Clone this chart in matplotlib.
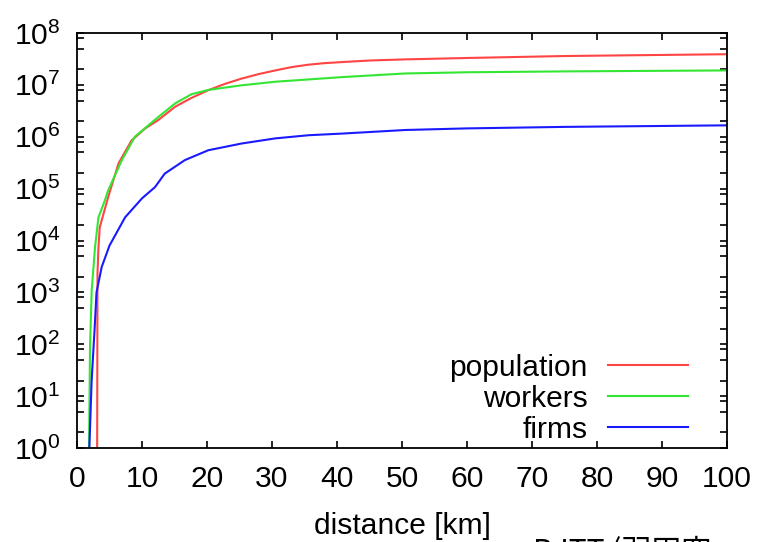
import numpy as np
import matplotlib
matplotlib.use('Agg')
import matplotlib.pyplot as plt
from matplotlib.ticker import LogLocator, NullFormatter, FixedLocator

# values (distance in km, cumulative counts)
pop_km = [3.1, 3.15, 3.3, 3.5, 4.8, 6.4, 8.4, 10.5, 12.5, 15.1, 17.6, 20.2,
          22.8, 25.3, 28, 30.5, 33, 35.6, 38, 40.7, 45, 50.5, 60, 75, 100]
pop_val = [1, 2.3e3, 7.4e3, 1.8e4, 6.9e4, 3.1e5, 8.5e5, 1.45e6, 2.1e6, 3.8e6,
           5.6e6, 7.9e6, 1.05e7, 1.32e7, 1.62e7, 1.9e7, 2.2e7, 2.45e7, 2.62e7,
           2.75e7, 2.95e7, 3.1e7, 3.3e7, 3.6e7, 3.9e7]

work_km = [1.85, 2.0, 2.26, 2.77, 3.3, 4.3, 4.8, 6.9, 8.9, 12.5, 15.1, 17.6,
           20.2, 25.3, 30.5, 40.7, 50.5, 60, 75, 100]
work_val = [1, 90, 1.1e3, 7.4e3, 2.8e4, 6.0e4, 9.3e4, 3.55e5, 1.0e6, 2.4e6,
            4.4e6, 6.6e6, 8.0e6, 9.8e6, 1.15e7, 1.41e7, 1.66e7, 1.75e7,
            1.82e7, 1.9e7]

firm_km = [1.9, 2.25, 2.7, 3.0, 3.8, 5.0, 7.4, 10.0, 12.0, 13.5, 16.6, 20.2,
           25.3, 30.5, 35.6, 40.7, 50.5, 60, 75, 100]
firm_val = [1, 20, 190, 1.0e3, 3.1e3, 8.0e3, 2.8e4, 6.5e4, 1.07e5, 1.95e5,
            3.55e5, 5.5e5, 7.4e5, 9.3e5, 1.07e6, 1.15e6, 1.35e6, 1.45e6,
            1.55e6, 1.66e6]

series_labels = ['population', 'workers', 'firms']
series_colors = ['#ff4444', '#33e633', '#1a1aff']
xticks = list(range(0, 101, 10))
yticks = [10.0 ** k for k in range(0, 9)]

plt.rcParams['font.family'] = ['Liberation Sans', 'DejaVu Sans']
plt.rcParams['mathtext.fontset'] = 'custom'
plt.rcParams['mathtext.rm'] = 'Liberation Sans'
plt.rcParams['mathtext.it'] = 'Liberation Sans'
plt.rcParams['mathtext.bf'] = 'Liberation Sans'

FS = 21.6

fig = plt.figure(figsize=(7.61, 5.42), dpi=100)
ax = fig.add_axes([0.1012, 0.1734, 0.8541, 0.7657])

for xs, ys, lab, col in zip([pop_km, work_km, firm_km],
                            [pop_val, work_val, firm_val],
                            series_labels, series_colors):
    ax.plot(xs, ys, color=col, lw=1.5, label=lab)

ax.set_yscale('log')
ax.set_xlim(0, 100)
ax.set_ylim(1, 1e8)
ax.xaxis.set_major_locator(FixedLocator(xticks))
ax.set_xticklabels([str(t) for t in xticks])
ax.yaxis.set_major_locator(FixedLocator(yticks))
ax.set_yticklabels([r'$\mathregular{10^{%d}}$' % k for k in range(0, 9)])
ax.yaxis.set_minor_locator(LogLocator(base=10, subs=(2.0, 5.0, 8.0), numticks=20))
ax.yaxis.set_minor_formatter(NullFormatter())

ax.tick_params(which='both', direction='in', top=True, right=True,
               width=1.2, colors='black')
ax.tick_params(which='major', length=5)
ax.tick_params(which='minor', length=5)
ax.tick_params(axis='x', labelsize=FS, pad=12)
ax.tick_params(axis='y', labelsize=FS, pad=12)
for sp in ax.spines.values():
    sp.set_linewidth(1.3)

ax.set_xlabel('distance [km]', fontsize=FS, labelpad=14)

ax.legend(loc='lower right', bbox_to_anchor=(0.94, 0.01), frameon=False,
          markerfirst=False, fontsize=FS, handlelength=2.67,
          handletextpad=0.67, labelspacing=0.1, borderaxespad=0,
          borderpad=0)

# clipped caption from the slide underneath
fig.text(533 / 761, -0.035, 'BJTT (羽田空', fontsize=FS, color='black',
         family=['Noto Sans CJK JP', 'DejaVu Sans'], ha='left', va='baseline')

fig.savefig('out.png', dpi=100)
